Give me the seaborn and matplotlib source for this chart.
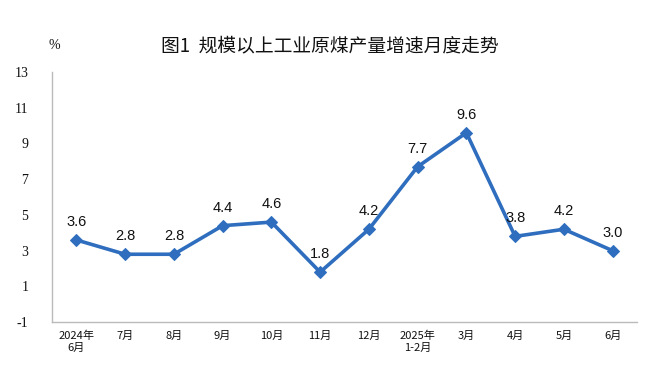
import matplotlib
matplotlib.use("Agg")
import matplotlib.pyplot as plt
import seaborn as sns
import pandas as pd

months = ["2024年\n6月", "7月", "8月", "9月", "10月", "11月", "12月",
          "2025年\n1-2月", "3月", "4月", "5月", "6月"]
growth = [3.6, 2.8, 2.8, 4.4, 4.6, 1.8, 4.2, 7.7, 9.6, 3.8, 4.2, 3.0]
yticks = [-1, 1, 3, 5, 7, 9, 11, 13]
title = "图1  规模以上工业原煤产量增速月度走势"

sns.set_theme(style="white")
plt.rcParams['font.family'] = ['Noto Sans CJK SC', 'DejaVu Sans']

df = pd.DataFrame({"pos": range(len(months)), "val": growth})
color = "#2F6EBE"

fig = plt.figure(figsize=(6.67, 3.79), dpi=100)
ax = fig.add_axes([0.078, 0.150, 0.877, 0.660])
sns.lineplot(data=df, x="pos", y="val", ax=ax, color=color, linewidth=2.6,
             marker="D", markersize=6.5, markeredgecolor=color, markerfacecolor=color)

for x, v in zip(df["pos"], df["val"]):
    ax.annotate(f"{v:.1f}", (x, v), xytext=(0, 8), textcoords="offset points",
                ha="center", va="bottom", fontsize=10.5, family="Liberation Sans", color="#111111")

ax.set_xlim(-0.5, len(months) - 0.5)
ax.set_ylim(-1, 13)
ax.set_yticks(yticks)
ax.set_yticklabels([str(t) for t in yticks], family="Liberation Serif", fontsize=10)
ax.set_xticks(range(len(months)))
ax.set_xticklabels(months, fontsize=8, linespacing=1.3)
ax.set_xticks([i + 0.5 for i in range(-1, len(months))], minor=True)
ax.tick_params(axis="x", which="major", length=0, pad=6, colors="#111111")
ax.tick_params(axis="x", which="minor", length=3, direction="in", color="#BBBBBB")
ax.tick_params(axis="y", length=3, direction="out", pad=14, colors="#111111")
ax.tick_params(axis="y", color="#BBBBBB")
ax.set_xlabel("")
ax.set_ylabel("")
for s in ["top", "right"]:
    ax.spines[s].set_visible(False)
for s in ["left", "bottom"]:
    ax.spines[s].set_color("#BBBBBB")
    ax.spines[s].set_linewidth(1.0)

fig.text(0.495, 0.88, title, ha="center", va="center", fontsize=13.5, color="#111111")
fig.text(0.082, 0.88, "%", ha="center", va="center", fontsize=10, family="Liberation Serif", color="#111111")

fig.savefig("out.png", dpi=100, facecolor="white")
